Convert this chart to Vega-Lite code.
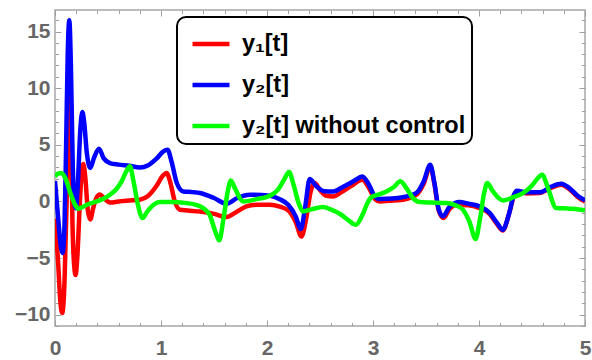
{
  "$schema": "https://vega.github.io/schema/vega-lite/v6.json",
  "width": 530,
  "height": 316,
  "autosize": {"type": "none"},
  "padding": {"left": 55, "top": 10, "right": 7, "bottom": 34},
  "background": "white",
  "config": {
    "view": {"stroke": "#a6a6a6", "strokeWidth": 1.5},
    "axis": {
      "domain": false,
      "grid": false,
      "tickColor": "#a0a0a0",
      "tickWidth": 1,
      "labelFont": "Liberation Sans",
      "labelFontWeight": "bold",
      "labelFontSize": 21,
      "labelColor": "#666666",
      "labelFlush": false,
      "labelOverlap": false,
      "title": null
    },
    "legend": {
      "orient": "none",
      "legendX": 122,
      "legendY": 7,
      "fillColor": "white",
      "strokeColor": "black",
      "strokeWidth": 2,
      "cornerRadius": 9,
      "padding": 6,
      "rowPadding": 8,
      "symbolType": "stroke",
      "symbolSize": 1369,
      "symbolStrokeWidth": 4.5,
      "symbolOffset": 7,
      "labelFont": "Liberation Sans",
      "labelFontWeight": "bold",
      "labelFontSize": 23.5,
      "labelColor": "black",
      "labelOffset": 10,
      "labelLimit": 400,
      "title": null
    }
  },
  "datasets": {
    "curves": [
      {"t": 0, "v": -1.5, "s": "y₁[t]"},
      {"t": 0.03, "v": -5.5, "s": "y₁[t]"},
      {"t": 0.05, "v": -8.8, "s": "y₁[t]"},
      {"t": 0.069, "v": -9.85, "s": "y₁[t]"},
      {"t": 0.09, "v": -7, "s": "y₁[t]"},
      {"t": 0.11, "v": 0, "s": "y₁[t]"},
      {"t": 0.125, "v": 8, "s": "y₁[t]"},
      {"t": 0.135, "v": 11, "s": "y₁[t]"},
      {"t": 0.148, "v": 7, "s": "y₁[t]"},
      {"t": 0.165, "v": -2, "s": "y₁[t]"},
      {"t": 0.182, "v": -5.8, "s": "y₁[t]"},
      {"t": 0.195, "v": -6.5, "s": "y₁[t]"},
      {"t": 0.21, "v": -5, "s": "y₁[t]"},
      {"t": 0.235, "v": 0, "s": "y₁[t]"},
      {"t": 0.255, "v": 2.9, "s": "y₁[t]"},
      {"t": 0.267, "v": 3.3, "s": "y₁[t]"},
      {"t": 0.285, "v": 2.2, "s": "y₁[t]"},
      {"t": 0.31, "v": -0.8, "s": "y₁[t]"},
      {"t": 0.333, "v": -1.6, "s": "y₁[t]"},
      {"t": 0.36, "v": -0.6, "s": "y₁[t]"},
      {"t": 0.39, "v": 0.3, "s": "y₁[t]"},
      {"t": 0.424, "v": 0.6, "s": "y₁[t]"},
      {"t": 0.46, "v": 0.3, "s": "y₁[t]"},
      {"t": 0.52, "v": -0.1, "s": "y₁[t]"},
      {"t": 0.6, "v": 0.0, "s": "y₁[t]"},
      {"t": 0.7, "v": 0.08, "s": "y₁[t]"},
      {"t": 0.8, "v": 0.15, "s": "y₁[t]"},
      {"t": 0.88, "v": 0.5, "s": "y₁[t]"},
      {"t": 0.96, "v": 1.4, "s": "y₁[t]"},
      {"t": 1.02, "v": 2.3, "s": "y₁[t]"},
      {"t": 1.053, "v": 2.5, "s": "y₁[t]"},
      {"t": 1.09, "v": 1.6, "s": "y₁[t]"},
      {"t": 1.13, "v": 0, "s": "y₁[t]"},
      {"t": 1.178, "v": -0.73, "s": "y₁[t]"},
      {"t": 1.25, "v": -0.8, "s": "y₁[t]"},
      {"t": 1.367, "v": -0.9, "s": "y₁[t]"},
      {"t": 1.5, "v": -1.1, "s": "y₁[t]"},
      {"t": 1.618, "v": -1.38, "s": "y₁[t]"},
      {"t": 1.7, "v": -1.0, "s": "y₁[t]"},
      {"t": 1.806, "v": -0.44, "s": "y₁[t]"},
      {"t": 1.9, "v": -0.3, "s": "y₁[t]"},
      {"t": 2.026, "v": -0.29, "s": "y₁[t]"},
      {"t": 2.12, "v": -0.45, "s": "y₁[t]"},
      {"t": 2.2, "v": -0.8, "s": "y₁[t]"},
      {"t": 2.27, "v": -1.8, "s": "y₁[t]"},
      {"t": 2.325, "v": -3.09, "s": "y₁[t]"},
      {"t": 2.37, "v": -1.5, "s": "y₁[t]"},
      {"t": 2.41, "v": 0.8, "s": "y₁[t]"},
      {"t": 2.45, "v": 1.62, "s": "y₁[t]"},
      {"t": 2.5, "v": 1.0, "s": "y₁[t]"},
      {"t": 2.56, "v": 0.5, "s": "y₁[t]"},
      {"t": 2.623, "v": 0.44, "s": "y₁[t]"},
      {"t": 2.7, "v": 0.8, "s": "y₁[t]"},
      {"t": 2.8, "v": 1.4, "s": "y₁[t]"},
      {"t": 2.9, "v": 1.91, "s": "y₁[t]"},
      {"t": 2.96, "v": 1.2, "s": "y₁[t]"},
      {"t": 3.02, "v": 0.2, "s": "y₁[t]"},
      {"t": 3.063, "v": 0, "s": "y₁[t]"},
      {"t": 3.15, "v": 0.05, "s": "y₁[t]"},
      {"t": 3.283, "v": 0.15, "s": "y₁[t]"},
      {"t": 3.41, "v": 0.59, "s": "y₁[t]"},
      {"t": 3.48, "v": 1.6, "s": "y₁[t]"},
      {"t": 3.54, "v": 3.09, "s": "y₁[t]"},
      {"t": 3.58, "v": 1.5, "s": "y₁[t]"},
      {"t": 3.62, "v": -0.8, "s": "y₁[t]"},
      {"t": 3.666, "v": -1.47, "s": "y₁[t]"},
      {"t": 3.72, "v": -0.7, "s": "y₁[t]"},
      {"t": 3.786, "v": -0.29, "s": "y₁[t]"},
      {"t": 3.9, "v": -0.35, "s": "y₁[t]"},
      {"t": 4.006, "v": -0.59, "s": "y₁[t]"},
      {"t": 4.1, "v": -1.1, "s": "y₁[t]"},
      {"t": 4.17, "v": -2.0, "s": "y₁[t]"},
      {"t": 4.225, "v": -2.56, "s": "y₁[t]"},
      {"t": 4.28, "v": -1.2, "s": "y₁[t]"},
      {"t": 4.33, "v": 0.5, "s": "y₁[t]"},
      {"t": 4.351, "v": 0.88, "s": "y₁[t]"},
      {"t": 4.45, "v": 0.7, "s": "y₁[t]"},
      {"t": 4.571, "v": 0.74, "s": "y₁[t]"},
      {"t": 4.68, "v": 1.2, "s": "y₁[t]"},
      {"t": 4.775, "v": 1.47, "s": "y₁[t]"},
      {"t": 4.85, "v": 1.1, "s": "y₁[t]"},
      {"t": 4.93, "v": 0.4, "s": "y₁[t]"},
      {"t": 5.0, "v": 0.0, "s": "y₁[t]"},

      {"t": 0, "v": 1.8, "s": "y₂[t]"},
      {"t": 0.03, "v": -1.5, "s": "y₂[t]"},
      {"t": 0.055, "v": -4.0, "s": "y₂[t]"},
      {"t": 0.072, "v": -4.56, "s": "y₂[t]"},
      {"t": 0.09, "v": -2, "s": "y₂[t]"},
      {"t": 0.105, "v": 5, "s": "y₂[t]"},
      {"t": 0.12, "v": 13, "s": "y₂[t]"},
      {"t": 0.135, "v": 16.0, "s": "y₂[t]"},
      {"t": 0.15, "v": 12, "s": "y₂[t]"},
      {"t": 0.168, "v": 3, "s": "y₂[t]"},
      {"t": 0.185, "v": -0.3, "s": "y₂[t]"},
      {"t": 0.198, "v": -0.6, "s": "y₂[t]"},
      {"t": 0.215, "v": 1.5, "s": "y₂[t]"},
      {"t": 0.24, "v": 6.5, "s": "y₂[t]"},
      {"t": 0.258, "v": 7.9, "s": "y₂[t]"},
      {"t": 0.275, "v": 7.0, "s": "y₂[t]"},
      {"t": 0.3, "v": 4.3, "s": "y₂[t]"},
      {"t": 0.333, "v": 2.95, "s": "y₂[t]"},
      {"t": 0.37, "v": 3.9, "s": "y₂[t]"},
      {"t": 0.415, "v": 4.65, "s": "y₂[t]"},
      {"t": 0.46, "v": 3.8, "s": "y₂[t]"},
      {"t": 0.518, "v": 3.39, "s": "y₂[t]"},
      {"t": 0.6, "v": 3.25, "s": "y₂[t]"},
      {"t": 0.7, "v": 3.15, "s": "y₂[t]"},
      {"t": 0.8, "v": 3.0, "s": "y₂[t]"},
      {"t": 0.88, "v": 3.2, "s": "y₂[t]"},
      {"t": 0.96, "v": 3.8, "s": "y₂[t]"},
      {"t": 1.02, "v": 4.4, "s": "y₂[t]"},
      {"t": 1.062, "v": 4.56, "s": "y₂[t]"},
      {"t": 1.1, "v": 3.5, "s": "y₂[t]"},
      {"t": 1.15, "v": 1.6, "s": "y₂[t]"},
      {"t": 1.21, "v": 0.88, "s": "y₂[t]"},
      {"t": 1.3, "v": 0.82, "s": "y₂[t]"},
      {"t": 1.367, "v": 0.74, "s": "y₂[t]"},
      {"t": 1.5, "v": 0.3, "s": "y₂[t]"},
      {"t": 1.618, "v": -0.2, "s": "y₂[t]"},
      {"t": 1.72, "v": 0.3, "s": "y₂[t]"},
      {"t": 1.838, "v": 0.59, "s": "y₂[t]"},
      {"t": 2.026, "v": 0.5, "s": "y₂[t]"},
      {"t": 2.12, "v": 0.2, "s": "y₂[t]"},
      {"t": 2.2, "v": -0.3, "s": "y₂[t]"},
      {"t": 2.27, "v": -1.3, "s": "y₂[t]"},
      {"t": 2.319, "v": -2.44, "s": "y₂[t]"},
      {"t": 2.36, "v": -0.5, "s": "y₂[t]"},
      {"t": 2.403, "v": 1.97, "s": "y₂[t]"},
      {"t": 2.46, "v": 1.4, "s": "y₂[t]"},
      {"t": 2.54, "v": 0.9, "s": "y₂[t]"},
      {"t": 2.623, "v": 0.88, "s": "y₂[t]"},
      {"t": 2.72, "v": 1.3, "s": "y₂[t]"},
      {"t": 2.82, "v": 1.8, "s": "y₂[t]"},
      {"t": 2.9, "v": 2.21, "s": "y₂[t]"},
      {"t": 2.96, "v": 1.5, "s": "y₂[t]"},
      {"t": 3.02, "v": 0.4, "s": "y₂[t]"},
      {"t": 3.063, "v": 0.21, "s": "y₂[t]"},
      {"t": 3.18, "v": 0.25, "s": "y₂[t]"},
      {"t": 3.283, "v": 0.38, "s": "y₂[t]"},
      {"t": 3.41, "v": 0.75, "s": "y₂[t]"},
      {"t": 3.48, "v": 1.8, "s": "y₂[t]"},
      {"t": 3.54, "v": 3.24, "s": "y₂[t]"},
      {"t": 3.58, "v": 1.6, "s": "y₂[t]"},
      {"t": 3.62, "v": -0.7, "s": "y₂[t]"},
      {"t": 3.66, "v": -1.32, "s": "y₂[t]"},
      {"t": 3.72, "v": -0.5, "s": "y₂[t]"},
      {"t": 3.817, "v": -0.06, "s": "y₂[t]"},
      {"t": 3.9, "v": -0.2, "s": "y₂[t]"},
      {"t": 4.006, "v": -0.44, "s": "y₂[t]"},
      {"t": 4.1, "v": -1.0, "s": "y₂[t]"},
      {"t": 4.17, "v": -1.9, "s": "y₂[t]"},
      {"t": 4.225, "v": -2.5, "s": "y₂[t]"},
      {"t": 4.28, "v": -1.2, "s": "y₂[t]"},
      {"t": 4.33, "v": 0.6, "s": "y₂[t]"},
      {"t": 4.36, "v": 0.94, "s": "y₂[t]"},
      {"t": 4.45, "v": 0.8, "s": "y₂[t]"},
      {"t": 4.571, "v": 0.8, "s": "y₂[t]"},
      {"t": 4.68, "v": 1.3, "s": "y₂[t]"},
      {"t": 4.775, "v": 1.56, "s": "y₂[t]"},
      {"t": 4.85, "v": 1.2, "s": "y₂[t]"},
      {"t": 4.93, "v": 0.5, "s": "y₂[t]"},
      {"t": 5.0, "v": 0.09, "s": "y₂[t]"},

      {"t": 0, "v": 2.2, "s": "y₂[t] without control"},
      {"t": 0.03, "v": 2.45, "s": "y₂[t] without control"},
      {"t": 0.063, "v": 2.5, "s": "y₂[t] without control"},
      {"t": 0.1, "v": 2.0, "s": "y₂[t] without control"},
      {"t": 0.15, "v": 0.6, "s": "y₂[t] without control"},
      {"t": 0.19, "v": -0.3, "s": "y₂[t] without control"},
      {"t": 0.22, "v": -0.64, "s": "y₂[t] without control"},
      {"t": 0.26, "v": -0.5, "s": "y₂[t] without control"},
      {"t": 0.3, "v": -0.3, "s": "y₂[t] without control"},
      {"t": 0.393, "v": 0.0, "s": "y₂[t] without control"},
      {"t": 0.45, "v": 0.2, "s": "y₂[t] without control"},
      {"t": 0.518, "v": 0.59, "s": "y₂[t] without control"},
      {"t": 0.58, "v": 1.1, "s": "y₂[t] without control"},
      {"t": 0.628, "v": 1.77, "s": "y₂[t] without control"},
      {"t": 0.67, "v": 2.6, "s": "y₂[t] without control"},
      {"t": 0.707, "v": 3.1, "s": "y₂[t] without control"},
      {"t": 0.74, "v": 1.8, "s": "y₂[t] without control"},
      {"t": 0.78, "v": -0.2, "s": "y₂[t] without control"},
      {"t": 0.826, "v": -1.47, "s": "y₂[t] without control"},
      {"t": 0.87, "v": -0.9, "s": "y₂[t] without control"},
      {"t": 0.93, "v": -0.3, "s": "y₂[t] without control"},
      {"t": 0.99, "v": -0.06, "s": "y₂[t] without control"},
      {"t": 1.1, "v": -0.05, "s": "y₂[t] without control"},
      {"t": 1.241, "v": -0.15, "s": "y₂[t] without control"},
      {"t": 1.33, "v": -0.3, "s": "y₂[t] without control"},
      {"t": 1.398, "v": -0.59, "s": "y₂[t] without control"},
      {"t": 1.46, "v": -1.2, "s": "y₂[t] without control"},
      {"t": 1.51, "v": -2.6, "s": "y₂[t] without control"},
      {"t": 1.549, "v": -3.44, "s": "y₂[t] without control"},
      {"t": 1.59, "v": -1.5, "s": "y₂[t] without control"},
      {"t": 1.63, "v": 0.9, "s": "y₂[t] without control"},
      {"t": 1.659, "v": 1.85, "s": "y₂[t] without control"},
      {"t": 1.7, "v": 1.1, "s": "y₂[t] without control"},
      {"t": 1.775, "v": 0, "s": "y₂[t] without control"},
      {"t": 1.9, "v": 0.2, "s": "y₂[t] without control"},
      {"t": 2.026, "v": 0.5, "s": "y₂[t] without control"},
      {"t": 2.1, "v": 1.0, "s": "y₂[t] without control"},
      {"t": 2.16, "v": 1.9, "s": "y₂[t] without control"},
      {"t": 2.208, "v": 2.59, "s": "y₂[t] without control"},
      {"t": 2.25, "v": 1.5, "s": "y₂[t] without control"},
      {"t": 2.3, "v": -0.2, "s": "y₂[t] without control"},
      {"t": 2.34, "v": -0.88, "s": "y₂[t] without control"},
      {"t": 2.42, "v": -0.7, "s": "y₂[t] without control"},
      {"t": 2.529, "v": -0.5, "s": "y₂[t] without control"},
      {"t": 2.6, "v": -0.7, "s": "y₂[t] without control"},
      {"t": 2.686, "v": -1.09, "s": "y₂[t] without control"},
      {"t": 2.76, "v": -1.6, "s": "y₂[t] without control"},
      {"t": 2.837, "v": -2.06, "s": "y₂[t] without control"},
      {"t": 2.9, "v": -1.2, "s": "y₂[t] without control"},
      {"t": 2.95, "v": -0.1, "s": "y₂[t] without control"},
      {"t": 2.985, "v": 0.38, "s": "y₂[t] without control"},
      {"t": 3.05, "v": 0.6, "s": "y₂[t] without control"},
      {"t": 3.126, "v": 0.88, "s": "y₂[t] without control"},
      {"t": 3.2, "v": 1.3, "s": "y₂[t] without control"},
      {"t": 3.258, "v": 1.77, "s": "y₂[t] without control"},
      {"t": 3.32, "v": 1.1, "s": "y₂[t] without control"},
      {"t": 3.377, "v": 0.29, "s": "y₂[t] without control"},
      {"t": 3.44, "v": -0.06, "s": "y₂[t] without control"},
      {"t": 3.55, "v": -0.1, "s": "y₂[t] without control"},
      {"t": 3.692, "v": -0.15, "s": "y₂[t] without control"},
      {"t": 3.78, "v": -0.35, "s": "y₂[t] without control"},
      {"t": 3.848, "v": -0.73, "s": "y₂[t] without control"},
      {"t": 3.91, "v": -1.8, "s": "y₂[t] without control"},
      {"t": 3.968, "v": -3.32, "s": "y₂[t] without control"},
      {"t": 4.01, "v": -1.5, "s": "y₂[t] without control"},
      {"t": 4.05, "v": 0.8, "s": "y₂[t] without control"},
      {"t": 4.078, "v": 1.62, "s": "y₂[t] without control"},
      {"t": 4.13, "v": 0.9, "s": "y₂[t] without control"},
      {"t": 4.225, "v": 0.09, "s": "y₂[t] without control"},
      {"t": 4.32, "v": 0.35, "s": "y₂[t] without control"},
      {"t": 4.414, "v": 0.74, "s": "y₂[t] without control"},
      {"t": 4.5, "v": 1.4, "s": "y₂[t] without control"},
      {"t": 4.55, "v": 2.0, "s": "y₂[t] without control"},
      {"t": 4.596, "v": 2.36, "s": "y₂[t] without control"},
      {"t": 4.65, "v": 1.2, "s": "y₂[t] without control"},
      {"t": 4.729, "v": -0.59, "s": "y₂[t] without control"},
      {"t": 4.8, "v": -0.6, "s": "y₂[t] without control"},
      {"t": 4.855, "v": -0.64, "s": "y₂[t] without control"},
      {"t": 4.93, "v": -0.7, "s": "y₂[t] without control"},
      {"t": 5.0, "v": -0.79, "s": "y₂[t] without control"}
    ]
  },
  "data": {"name": "curves"},
  "resolve": {"axis": {"x": "independent", "y": "independent"}},
  "layer": [
    {
      "transform": [{"filter": "datum.s === 'y₁[t]'"}],
      "mark": {"type": "line", "interpolate": "monotone", "strokeWidth": 4.5, "clip": true},
      "encoding": {
        "x": {
          "field": "t", "type": "quantitative",
          "scale": {"domain": [0, 5], "nice": false, "zero": false},
          "axis": {
            "orient": "bottom",
            "values": [0, 0.2, 0.4, 0.6, 0.8, 1, 1.2, 1.4, 1.6, 1.8, 2, 2.2, 2.4, 2.6, 2.8, 3, 3.2, 3.4, 3.6, 3.8, 4, 4.2, 4.4, 4.6, 4.8, 5],
            "labelExpr": "datum.value % 1 === 0 ? '' + datum.value : ''",
            "tickSize": {"condition": {"test": "datum.value % 1 === 0", "value": -6}, "value": -3.5},
            "labelPadding": 17
          }
        },
        "y": {
          "field": "v", "type": "quantitative",
          "scale": {"domain": [-11, 16.9], "nice": false, "zero": false},
          "axis": {
            "orient": "left",
            "values": [-11, -10, -9, -8, -7, -6, -5, -4, -3, -2, -1, 0, 1, 2, 3, 4, 5, 6, 7, 8, 9, 10, 11, 12, 13, 14, 15, 16],
            "labelExpr": "datum.value % 5 === 0 ? datum.label : ''",
            "tickSize": {"condition": {"test": "datum.value % 5 === 0", "value": -6}, "value": -3.5},
            "labelPadding": 11
          }
        },
        "color": {
          "field": "s", "type": "nominal",
          "scale": {"domain": ["y₁[t]", "y₂[t]", "y₂[t] without control"], "range": ["#ff0000", "#0000ff", "#00ff00"]}
        }
      }
    },
    {
      "transform": [{"filter": "datum.s === 'y₂[t]'"}],
      "mark": {"type": "line", "interpolate": "monotone", "strokeWidth": 4.5, "clip": true},
      "encoding": {
        "x": {
          "field": "t", "type": "quantitative",
          "scale": {"domain": [0, 5], "nice": false, "zero": false},
          "axis": {
            "orient": "top",
            "values": [0, 0.2, 0.4, 0.6, 0.8, 1, 1.2, 1.4, 1.6, 1.8, 2, 2.2, 2.4, 2.6, 2.8, 3, 3.2, 3.4, 3.6, 3.8, 4, 4.2, 4.4, 4.6, 4.8, 5],
            "labels": false,
            "tickSize": {"condition": {"test": "datum.value % 1 === 0", "value": -6}, "value": -3.5}
          }
        },
        "y": {
          "field": "v", "type": "quantitative",
          "scale": {"domain": [-11, 16.9], "nice": false, "zero": false},
          "axis": {
            "orient": "right",
            "values": [-11, -10, -9, -8, -7, -6, -5, -4, -3, -2, -1, 0, 1, 2, 3, 4, 5, 6, 7, 8, 9, 10, 11, 12, 13, 14, 15, 16],
            "labels": false,
            "tickSize": {"condition": {"test": "datum.value % 5 === 0", "value": -6}, "value": -3.5}
          }
        },
        "color": {"field": "s", "type": "nominal"}
      }
    },
    {
      "transform": [{"filter": "datum.s === 'y₂[t] without control'"}],
      "mark": {"type": "line", "interpolate": "monotone", "strokeWidth": 4.5, "clip": true},
      "encoding": {
        "x": {"field": "t", "type": "quantitative", "axis": null},
        "y": {"field": "v", "type": "quantitative", "axis": null},
        "color": {"field": "s", "type": "nominal"}
      }
    }
  ]
}
